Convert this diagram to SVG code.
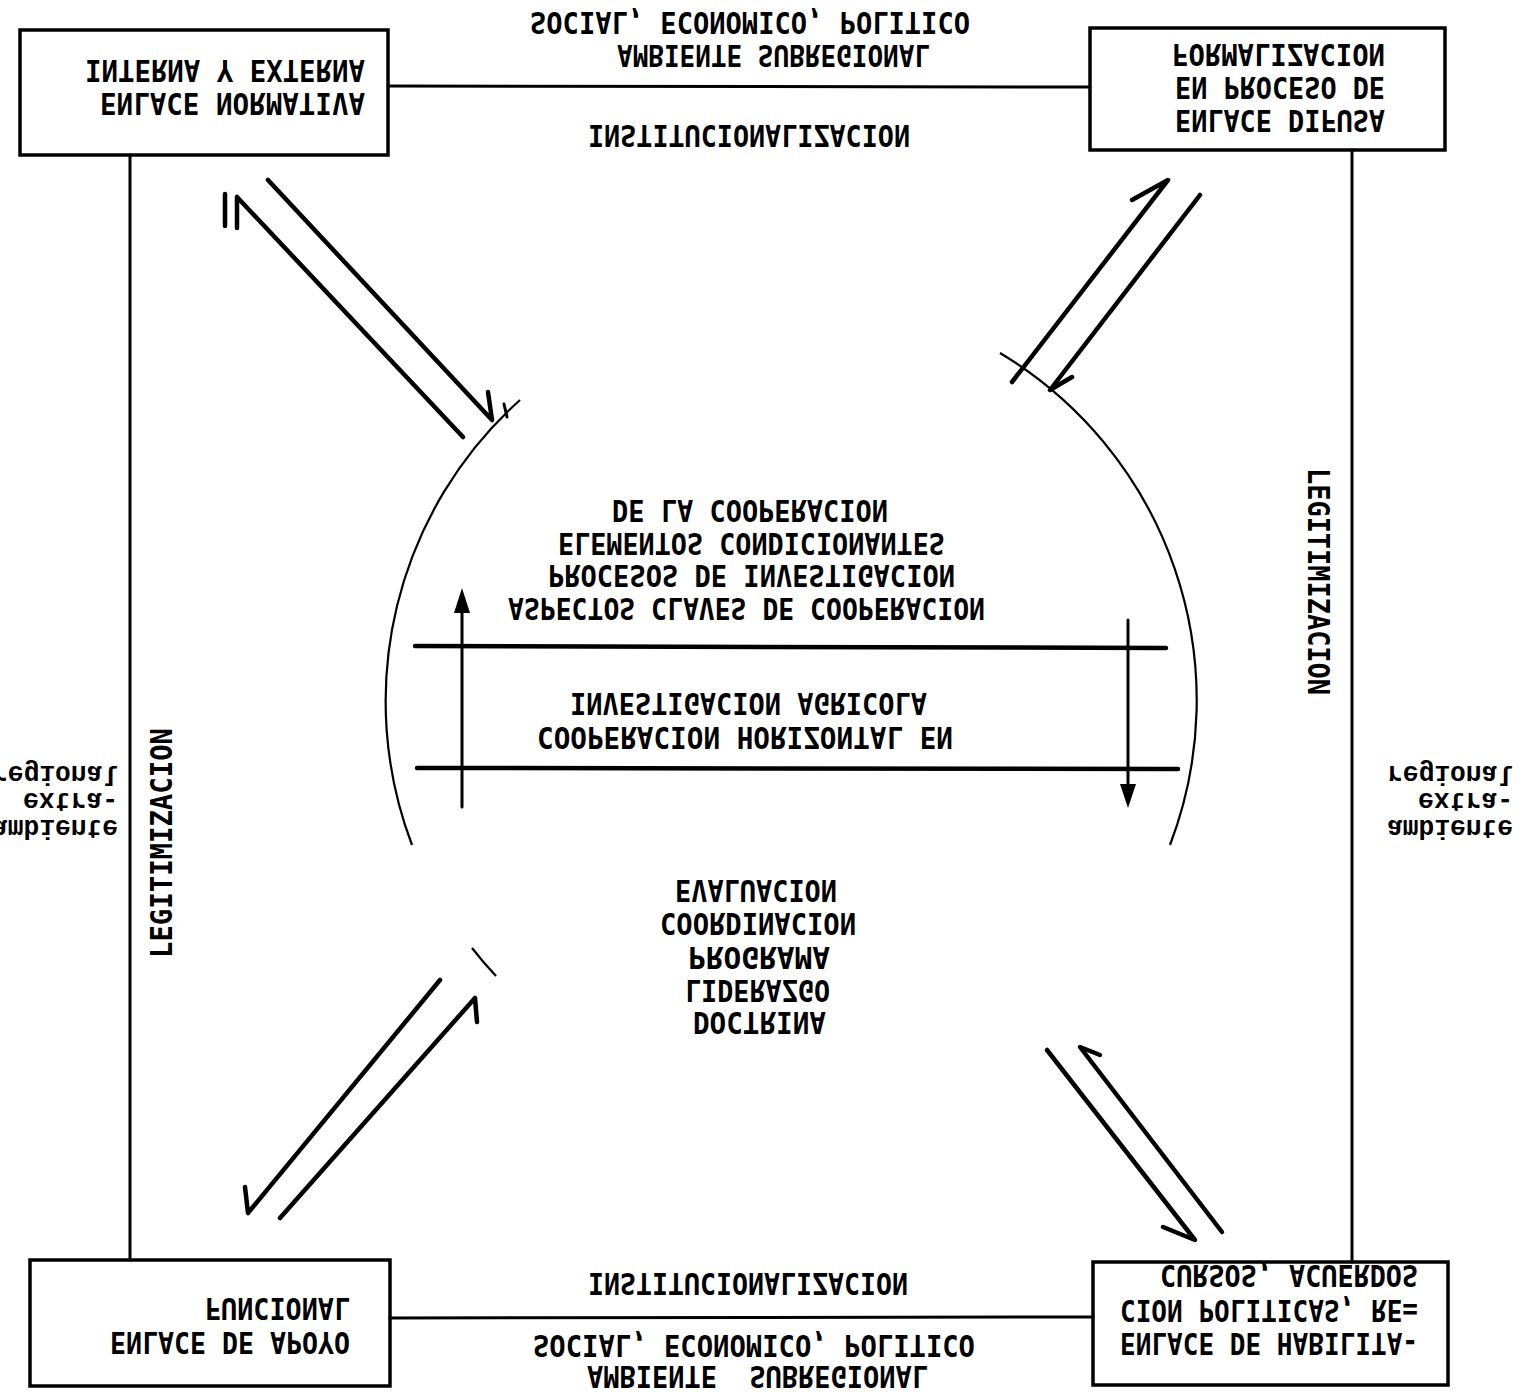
<svg xmlns="http://www.w3.org/2000/svg" width="1522" height="1392" viewBox="0 0 1522 1392">
<style>
.bg{fill:#fff}
.box{fill:none;stroke:#000;stroke-width:3.5}
.ln{fill:none;stroke:#000;stroke-width:3;stroke-linecap:round}
.thick{fill:none;stroke:#000;stroke-width:4.5;stroke-linecap:round;stroke-linejoin:round}
.circ{fill:none;stroke:#000;stroke-width:2.2}
.t{font-family:"DejaVu Sans Mono","Liberation Mono",monospace;font-weight:bold;font-size:30px;fill:#000}
.lc{font-family:"Liberation Mono","DejaVu Sans Mono",monospace;font-weight:bold;font-size:27px;fill:#000}
</style>
<rect class="bg" x="0" y="0" width="1522" height="1392"/>

<g id="connectors">
  <path class="ln" d="M388,86 L1090,87"/>
  <path class="ln" d="M390,1318 L1093,1317"/>
  <path class="ln" d="M130,155 L130,1260"/>
  <path class="ln" d="M1352,150 L1352,1262"/>
  <path class="thick" d="M463,437 L237,197 L237,228"/>
  <path class="thick" d="M225,194 L225,226"/>
  <path class="thick" d="M268,180 L492,420 L488,392"/>
  <path class="ln" d="M504,404 L507,417"/>
  <path class="thick" d="M1012,382 L1168,180 L1132,200"/>
  <path class="thick" d="M1200,195 L1050,390 L1072,377"/>
  <path class="thick" d="M440,980 L248,1213 L245,1187"/>
  <path class="thick" d="M280,1218 L475,998 L477,1022"/>
  <path class="thick" d="M1047,1050 L1195,1240 L1163,1227"/>
  <path class="thick" d="M1222,1232 L1080,1047 L1100,1055"/>
</g>

<g id="node-tl">
  <rect class="box" x="20" y="30" width="368" height="125"/>
  <g transform="matrix(1 0 0 -1 0 1392)">
    <text class="t" x="100" y="1299" textLength="265" lengthAdjust="spacingAndGlyphs">ENLACE NORMATIVA</text>
    <text class="t" x="85" y="1332" textLength="280" lengthAdjust="spacingAndGlyphs">INTERNA Y EXTERNA</text>
  </g>
</g>

<g id="node-tr">
  <rect class="box" x="1090" y="28" width="355" height="122"/>
  <g transform="matrix(1 0 0 -1 0 1392)">
    <text class="t" x="1175" y="1282" textLength="210" lengthAdjust="spacingAndGlyphs">ENLACE DIFUSA</text>
    <text class="t" x="1175" y="1315" textLength="210" lengthAdjust="spacingAndGlyphs">EN PROCESO DE</text>
    <text class="t" x="1172" y="1348" textLength="213" lengthAdjust="spacingAndGlyphs">FORMALIZACION</text>
  </g>
</g>

<g id="node-bl">
  <rect class="box" x="30" y="1260" width="360" height="126"/>
  <g transform="matrix(1 0 0 -1 0 1392)">
    <text class="t" x="110" y="60" textLength="240" lengthAdjust="spacingAndGlyphs">ENLACE DE APOYO</text>
    <text class="t" x="205" y="94" textLength="145" lengthAdjust="spacingAndGlyphs">FUNCIONAL</text>
  </g>
</g>

<g id="node-br">
  <rect class="box" x="1093" y="1262" width="355" height="123"/>
  <g transform="matrix(1 0 0 -1 0 1392)">
    <text class="t" x="1120" y="59" textLength="298" lengthAdjust="spacingAndGlyphs">ENLACE DE HABILITA-</text>
    <text class="t" x="1120" y="92" textLength="298" lengthAdjust="spacingAndGlyphs">CION POLITICAS, RE=</text>
    <text class="t" x="1160" y="127" textLength="258" lengthAdjust="spacingAndGlyphs">CURSOS, ACUERDOS</text>
  </g>
</g>

<g id="node-center">
  <path class="circ" d="M520,400 A405,405 0 0 0 412,845"/>
  <path class="circ" d="M1000,353 A405,405 0 0 1 1170,845"/>
  <path class="circ" d="M472,948 A405,405 0 0 0 496,976"/>
  <path class="thick" d="M415,646 L1166,648"/>
  <path class="thick" d="M417,768 L1178,769"/>
  <path class="ln" d="M462,807 L462,605"/>
  <polygon points="462,588 454,613 470,613" fill="#000"/>
  <path class="ln" d="M1128,620 L1128,792"/>
  <polygon points="1128,808 1120,784 1136,784" fill="#000"/>
  <g transform="matrix(1 0 0 -1 0 1392)">
    <text class="t" x="508" y="794" textLength="477" lengthAdjust="spacingAndGlyphs">ASPECTOS CLAVES DE COOPERACION</text>
    <text class="t" x="548" y="827" textLength="407" lengthAdjust="spacingAndGlyphs">PROCESOS DE INVESTIGACION</text>
    <text class="t" x="558" y="859" textLength="387" lengthAdjust="spacingAndGlyphs">ELEMENTOS CONDICIONANTES</text>
    <text class="t" x="612" y="892" textLength="276" lengthAdjust="spacingAndGlyphs">DE LA COOPERACION</text>
    <text class="t" x="537" y="665" textLength="416" lengthAdjust="spacingAndGlyphs">COOPERACION HORIZONTAL EN</text>
    <text class="t" x="570" y="699" textLength="357" lengthAdjust="spacingAndGlyphs">INVESTIGACION AGRICOLA</text>
    <text class="t" x="693" y="380" textLength="133" lengthAdjust="spacingAndGlyphs">DOCTRINA</text>
    <text class="t" x="685" y="412" textLength="145" lengthAdjust="spacingAndGlyphs">LIDERAZGO</text>
    <text class="t" x="688" y="445" textLength="142" lengthAdjust="spacingAndGlyphs">PROGRAMA</text>
    <text class="t" x="660" y="479" textLength="196" lengthAdjust="spacingAndGlyphs">COORDINACION</text>
    <text class="t" x="675" y="512" textLength="162" lengthAdjust="spacingAndGlyphs">EVALUACION</text>
  </g>
</g>

<g id="labels">
  <text class="t" transform="translate(172,958) rotate(-90)" x="0" y="0" textLength="230" lengthAdjust="spacingAndGlyphs">LEGITIMIZACION</text>
  <text class="t" transform="translate(1308,468) rotate(90)" x="0" y="0" textLength="227" lengthAdjust="spacingAndGlyphs">LEGITIMIZACION</text>
  <g transform="matrix(1 0 0 -1 0 1392)">
    <text class="t" x="617" y="1347" textLength="313" lengthAdjust="spacingAndGlyphs">AMBIENTE SUBREGIONAL</text>
    <text class="t" x="530" y="1380" textLength="440" lengthAdjust="spacingAndGlyphs">SOCIAL, ECONOMICO, POLITICO</text>
    <text class="t" x="588" y="1267" textLength="322" lengthAdjust="spacingAndGlyphs">INSTITUCIONALIZACION</text>
    <text class="t" x="588" y="119" textLength="320" lengthAdjust="spacingAndGlyphs">INSTITUCIONALIZACION</text>
    <text class="t" x="533" y="57" textLength="442" lengthAdjust="spacingAndGlyphs">SOCIAL, ECONOMICO, POLITICO</text>
    <text class="t" x="587" y="26" textLength="341" lengthAdjust="spacingAndGlyphs" xml:space="preserve">AMBIENTE  SUBREGIONAL</text>
    <text class="lc" x="1387" y="572" textLength="126" lengthAdjust="spacingAndGlyphs">ambiente</text>
    <text class="lc" x="1418" y="599" textLength="95" lengthAdjust="spacingAndGlyphs">extra-</text>
    <text class="lc" x="1387" y="626" textLength="126" lengthAdjust="spacingAndGlyphs">regional</text>
    <text class="lc" x="-8" y="572" textLength="126" lengthAdjust="spacingAndGlyphs">ambiente</text>
    <text class="lc" x="23" y="599" textLength="95" lengthAdjust="spacingAndGlyphs">extra-</text>
    <text class="lc" x="-8" y="626" textLength="126" lengthAdjust="spacingAndGlyphs">regional</text>
  </g>
</g>
</svg>
